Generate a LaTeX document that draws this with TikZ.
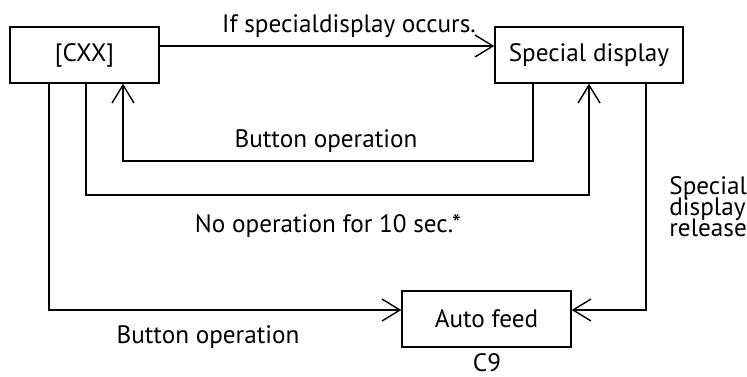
\documentclass[tikz,border=0pt]{standalone}
\usepackage{fontspec}
\setmainfont{PT Sans}
\usetikzlibrary{arrows.meta, calc}

\begin{document}
\begin{tikzpicture}[
    x=0.5pt, y=-0.5pt,
    box/.style={draw, line width=0.7pt, minimum height=28pt, inner sep=0pt,
                font=\fontsize{12.6}{14}\selectfont},
    lbl/.style={font=\fontsize{12.6}{14}\selectfont, inner sep=0pt, anchor=base},
    line/.style={line width=1.25pt},
    arr/.style={line, -{Straight Barb[length=9pt, width=11pt, line width=0.7pt]}},
]
\useasboundingbox (0,0) rectangle (747,376);

% --- States ---
\node[box, minimum width=74.5pt] (cxx) at (84.5,55) {[CXX]};
\node[box, minimum width=94pt] (spec) at (589,55) {Special display};
\node[box, minimum width=84.5pt] (feed) at (486.5,319) {Auto feed};

% --- Corner points ---
\coordinate (btnR) at (533,161);
\coordinate (btnL) at (123,161);
\coordinate (toL) at (86,195);
\coordinate (toR) at (589,195);
\coordinate (feedL) at (49,310);
\coordinate (relR) at (646,310);

% --- Arrows ---
\draw[arr] ([yshift=4.5pt]cxx.east) -- ([yshift=4.5pt]spec.west);
\draw[arr] (spec.south -| btnR) -- (btnR) -- (btnL) -- (cxx.south -| btnL);
\draw[arr] (cxx.south -| toL) -- (toL) -- (toR) -- (spec.south -| toR);
\draw[arr] (cxx.south -| feedL) -- (feedL) -- (feedL -| feed.west);
\draw[arr] (spec.south -| relR) -- (relR) -- (relR -| feed.east);

% --- Labels ---
\node[lbl] (occurs) at (349,32) {If specialdisplay occurs.};
\node[lbl] (btnlbl) at (326,147) {Button operation};
\node[lbl] (tolbl) at (328,232) {No operation for 10 sec.*};
\node[lbl] (feedlbl) at (208,343) {Button operation};
\node[lbl] (c9) at (487,371) {C9};
\node[lbl, anchor=north west, align=left] (rel) at (669,176)
    {Special\\[-3.5pt]display\\[-3.5pt]release};

\end{tikzpicture}
\end{document}
